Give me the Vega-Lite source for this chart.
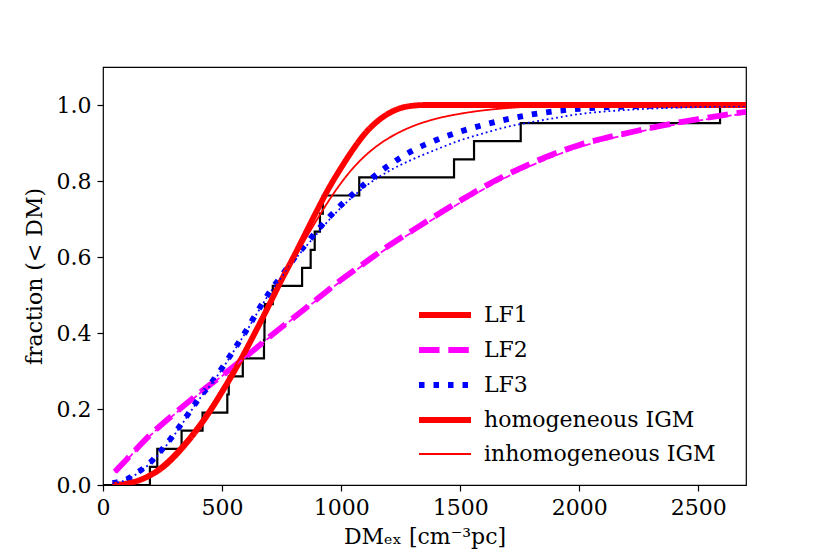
{
  "$schema": "https://vega.github.io/schema/vega-lite/v6.json",
  "autosize": {"type": "none"},
  "width": 643,
  "height": 418,
  "padding": {"left": 103, "top": 67, "right": 84, "bottom": 69},
  "background": "white",
  "datasets": {
    "obs": [
      {"x": 0, "y": 0}, {"x": 197, "y": 0.0476}, {"x": 228, "y": 0.0952}, {"x": 330, "y": 0.1429},
      {"x": 418, "y": 0.1905}, {"x": 522, "y": 0.2381}, {"x": 528, "y": 0.2857}, {"x": 587, "y": 0.3333},
      {"x": 676, "y": 0.381}, {"x": 678, "y": 0.4286}, {"x": 680, "y": 0.4762}, {"x": 713, "y": 0.5238},
      {"x": 836, "y": 0.5714}, {"x": 872, "y": 0.619}, {"x": 889, "y": 0.6667}, {"x": 911, "y": 0.7143},
      {"x": 923, "y": 0.7619}, {"x": 1076, "y": 0.8095}, {"x": 1474, "y": 0.8571}, {"x": 1558, "y": 0.9048},
      {"x": 1754, "y": 0.9524}, {"x": 2591, "y": 1.0}, {"x": 2700, "y": 1.0}
    ],
    "curves": [
      {"s": "LF2 inh", "x": 50, "y": 0.033}, {"s": "LF2 inh", "x": 100, "y": 0.066}, {"s": "LF2 inh", "x": 200, "y": 0.131}, {"s": "LF2 inh", "x": 300, "y": 0.186}, {"s": "LF2 inh", "x": 400, "y": 0.238}, {"s": "LF2 inh", "x": 500, "y": 0.287}, {"s": "LF2 inh", "x": 600, "y": 0.337}, {"s": "LF2 inh", "x": 700, "y": 0.389}, {"s": "LF2 inh", "x": 800, "y": 0.439}, {"s": "LF2 inh", "x": 900, "y": 0.488}, {"s": "LF2 inh", "x": 1000, "y": 0.537}, {"s": "LF2 inh", "x": 1100, "y": 0.582}, {"s": "LF2 inh", "x": 1200, "y": 0.626}, {"s": "LF2 inh", "x": 1300, "y": 0.666}, {"s": "LF2 inh", "x": 1400, "y": 0.705}, {"s": "LF2 inh", "x": 1500, "y": 0.743}, {"s": "LF2 inh", "x": 1600, "y": 0.779}, {"s": "LF2 inh", "x": 1700, "y": 0.812}, {"s": "LF2 inh", "x": 1800, "y": 0.841}, {"s": "LF2 inh", "x": 1900, "y": 0.867}, {"s": "LF2 inh", "x": 2000, "y": 0.889}, {"s": "LF2 inh", "x": 2100, "y": 0.907}, {"s": "LF2 inh", "x": 2200, "y": 0.922}, {"s": "LF2 inh", "x": 2300, "y": 0.936}, {"s": "LF2 inh", "x": 2400, "y": 0.948}, {"s": "LF2 inh", "x": 2500, "y": 0.959}, {"s": "LF2 inh", "x": 2600, "y": 0.969}, {"s": "LF2 inh", "x": 2700, "y": 0.978},
      {"s": "LF2", "x": 50, "y": 0.035}, {"s": "LF2", "x": 100, "y": 0.068}, {"s": "LF2", "x": 200, "y": 0.133}, {"s": "LF2", "x": 300, "y": 0.188}, {"s": "LF2", "x": 400, "y": 0.24}, {"s": "LF2", "x": 500, "y": 0.288}, {"s": "LF2", "x": 600, "y": 0.338}, {"s": "LF2", "x": 700, "y": 0.39}, {"s": "LF2", "x": 800, "y": 0.44}, {"s": "LF2", "x": 900, "y": 0.49}, {"s": "LF2", "x": 1000, "y": 0.54}, {"s": "LF2", "x": 1100, "y": 0.585}, {"s": "LF2", "x": 1200, "y": 0.63}, {"s": "LF2", "x": 1300, "y": 0.67}, {"s": "LF2", "x": 1400, "y": 0.71}, {"s": "LF2", "x": 1500, "y": 0.748}, {"s": "LF2", "x": 1600, "y": 0.785}, {"s": "LF2", "x": 1700, "y": 0.818}, {"s": "LF2", "x": 1800, "y": 0.847}, {"s": "LF2", "x": 1900, "y": 0.873}, {"s": "LF2", "x": 2000, "y": 0.895}, {"s": "LF2", "x": 2100, "y": 0.912}, {"s": "LF2", "x": 2200, "y": 0.926}, {"s": "LF2", "x": 2300, "y": 0.94}, {"s": "LF2", "x": 2400, "y": 0.952}, {"s": "LF2", "x": 2500, "y": 0.963}, {"s": "LF2", "x": 2600, "y": 0.973}, {"s": "LF2", "x": 2700, "y": 0.982},
      {"s": "LF3 inh", "x": 40, "y": 0.004}, {"s": "LF3 inh", "x": 100, "y": 0.014}, {"s": "LF3 inh", "x": 150, "y": 0.033}, {"s": "LF3 inh", "x": 200, "y": 0.058}, {"s": "LF3 inh", "x": 250, "y": 0.092}, {"s": "LF3 inh", "x": 300, "y": 0.132}, {"s": "LF3 inh", "x": 350, "y": 0.177}, {"s": "LF3 inh", "x": 400, "y": 0.222}, {"s": "LF3 inh", "x": 450, "y": 0.262}, {"s": "LF3 inh", "x": 500, "y": 0.305}, {"s": "LF3 inh", "x": 550, "y": 0.353}, {"s": "LF3 inh", "x": 600, "y": 0.402}, {"s": "LF3 inh", "x": 650, "y": 0.455}, {"s": "LF3 inh", "x": 700, "y": 0.505}, {"s": "LF3 inh", "x": 750, "y": 0.547}, {"s": "LF3 inh", "x": 800, "y": 0.589}, {"s": "LF3 inh", "x": 850, "y": 0.626}, {"s": "LF3 inh", "x": 900, "y": 0.662}, {"s": "LF3 inh", "x": 950, "y": 0.698}, {"s": "LF3 inh", "x": 1000, "y": 0.73}, {"s": "LF3 inh", "x": 1100, "y": 0.785}, {"s": "LF3 inh", "x": 1200, "y": 0.826}, {"s": "LF3 inh", "x": 1300, "y": 0.857}, {"s": "LF3 inh", "x": 1400, "y": 0.883}, {"s": "LF3 inh", "x": 1500, "y": 0.907}, {"s": "LF3 inh", "x": 1600, "y": 0.926}, {"s": "LF3 inh", "x": 1700, "y": 0.943}, {"s": "LF3 inh", "x": 1800, "y": 0.955}, {"s": "LF3 inh", "x": 1900, "y": 0.966}, {"s": "LF3 inh", "x": 2000, "y": 0.976}, {"s": "LF3 inh", "x": 2200, "y": 0.987}, {"s": "LF3 inh", "x": 2400, "y": 0.993}, {"s": "LF3 inh", "x": 2600, "y": 0.996}, {"s": "LF3 inh", "x": 2700, "y": 0.997},
      {"s": "LF3", "x": 40, "y": 0.005}, {"s": "LF3", "x": 100, "y": 0.015}, {"s": "LF3", "x": 150, "y": 0.035}, {"s": "LF3", "x": 200, "y": 0.06}, {"s": "LF3", "x": 250, "y": 0.095}, {"s": "LF3", "x": 300, "y": 0.135}, {"s": "LF3", "x": 350, "y": 0.18}, {"s": "LF3", "x": 400, "y": 0.225}, {"s": "LF3", "x": 450, "y": 0.265}, {"s": "LF3", "x": 500, "y": 0.308}, {"s": "LF3", "x": 550, "y": 0.356}, {"s": "LF3", "x": 600, "y": 0.405}, {"s": "LF3", "x": 650, "y": 0.458}, {"s": "LF3", "x": 700, "y": 0.508}, {"s": "LF3", "x": 750, "y": 0.551}, {"s": "LF3", "x": 800, "y": 0.594}, {"s": "LF3", "x": 850, "y": 0.632}, {"s": "LF3", "x": 900, "y": 0.67}, {"s": "LF3", "x": 950, "y": 0.705}, {"s": "LF3", "x": 1000, "y": 0.737}, {"s": "LF3", "x": 1050, "y": 0.766}, {"s": "LF3", "x": 1100, "y": 0.793}, {"s": "LF3", "x": 1200, "y": 0.841}, {"s": "LF3", "x": 1300, "y": 0.88}, {"s": "LF3", "x": 1400, "y": 0.908}, {"s": "LF3", "x": 1500, "y": 0.93}, {"s": "LF3", "x": 1600, "y": 0.948}, {"s": "LF3", "x": 1700, "y": 0.963}, {"s": "LF3", "x": 1800, "y": 0.975}, {"s": "LF3", "x": 1900, "y": 0.984}, {"s": "LF3", "x": 2000, "y": 0.99}, {"s": "LF3", "x": 2200, "y": 0.996}, {"s": "LF3", "x": 2400, "y": 0.999}, {"s": "LF3", "x": 2700, "y": 1.0},
      {"s": "inhomogeneous IGM", "x": 40, "y": 0}, {"s": "inhomogeneous IGM", "x": 100, "y": 0.006}, {"s": "inhomogeneous IGM", "x": 150, "y": 0.016}, {"s": "inhomogeneous IGM", "x": 200, "y": 0.032}, {"s": "inhomogeneous IGM", "x": 250, "y": 0.055}, {"s": "inhomogeneous IGM", "x": 300, "y": 0.085}, {"s": "inhomogeneous IGM", "x": 350, "y": 0.12}, {"s": "inhomogeneous IGM", "x": 400, "y": 0.16}, {"s": "inhomogeneous IGM", "x": 450, "y": 0.205}, {"s": "inhomogeneous IGM", "x": 500, "y": 0.255}, {"s": "inhomogeneous IGM", "x": 550, "y": 0.307}, {"s": "inhomogeneous IGM", "x": 600, "y": 0.362}, {"s": "inhomogeneous IGM", "x": 650, "y": 0.42}, {"s": "inhomogeneous IGM", "x": 700, "y": 0.477}, {"s": "inhomogeneous IGM", "x": 750, "y": 0.535}, {"s": "inhomogeneous IGM", "x": 800, "y": 0.592}, {"s": "inhomogeneous IGM", "x": 850, "y": 0.647}, {"s": "inhomogeneous IGM", "x": 900, "y": 0.7}, {"s": "inhomogeneous IGM", "x": 950, "y": 0.75}, {"s": "inhomogeneous IGM", "x": 1000, "y": 0.795}, {"s": "inhomogeneous IGM", "x": 1050, "y": 0.834}, {"s": "inhomogeneous IGM", "x": 1100, "y": 0.866}, {"s": "inhomogeneous IGM", "x": 1150, "y": 0.892}, {"s": "inhomogeneous IGM", "x": 1200, "y": 0.913}, {"s": "inhomogeneous IGM", "x": 1250, "y": 0.93}, {"s": "inhomogeneous IGM", "x": 1300, "y": 0.944}, {"s": "inhomogeneous IGM", "x": 1400, "y": 0.964}, {"s": "inhomogeneous IGM", "x": 1500, "y": 0.977}, {"s": "inhomogeneous IGM", "x": 1600, "y": 0.986}, {"s": "inhomogeneous IGM", "x": 1700, "y": 0.992}, {"s": "inhomogeneous IGM", "x": 1800, "y": 0.996}, {"s": "inhomogeneous IGM", "x": 1900, "y": 0.998}, {"s": "inhomogeneous IGM", "x": 2100, "y": 1.0}, {"s": "inhomogeneous IGM", "x": 2700, "y": 1.0},
      {"s": "LF1", "x": 40, "y": 0}, {"s": "LF1", "x": 100, "y": 0.004}, {"s": "LF1", "x": 150, "y": 0.012}, {"s": "LF1", "x": 200, "y": 0.026}, {"s": "LF1", "x": 250, "y": 0.046}, {"s": "LF1", "x": 300, "y": 0.075}, {"s": "LF1", "x": 350, "y": 0.11}, {"s": "LF1", "x": 400, "y": 0.15}, {"s": "LF1", "x": 450, "y": 0.195}, {"s": "LF1", "x": 500, "y": 0.245}, {"s": "LF1", "x": 550, "y": 0.298}, {"s": "LF1", "x": 600, "y": 0.355}, {"s": "LF1", "x": 650, "y": 0.415}, {"s": "LF1", "x": 700, "y": 0.477}, {"s": "LF1", "x": 750, "y": 0.54}, {"s": "LF1", "x": 800, "y": 0.6}, {"s": "LF1", "x": 850, "y": 0.662}, {"s": "LF1", "x": 900, "y": 0.724}, {"s": "LF1", "x": 950, "y": 0.783}, {"s": "LF1", "x": 1000, "y": 0.835}, {"s": "LF1", "x": 1050, "y": 0.883}, {"s": "LF1", "x": 1100, "y": 0.925}, {"s": "LF1", "x": 1150, "y": 0.956}, {"s": "LF1", "x": 1200, "y": 0.978}, {"s": "LF1", "x": 1250, "y": 0.992}, {"s": "LF1", "x": 1300, "y": 0.998}, {"s": "LF1", "x": 1350, "y": 1.0}, {"s": "LF1", "x": 2700, "y": 1.0}
    ]
  },
  "encoding": {
    "x": {
      "field": "x", "type": "quantitative",
      "scale": {"domain": [0, 2700], "nice": false, "zero": false},
      "axis": {"values": [0, 500, 1000, 1500, 2000, 2500], "format": "d", "title": "DMₑₓ [cm⁻³pc]", "titlePadding": 8, "labelFlush": false}
    },
    "y": {
      "field": "y", "type": "quantitative",
      "scale": {"domain": [0, 1.1], "nice": false},
      "axis": {"values": [0, 0.2, 0.4, 0.6, 0.8, 1.0], "format": ".1f", "title": "fraction (< DM)", "titlePadding": 10, "labelFlush": false}
    }
  },
  "layer": [
    {
      "data": {"name": "obs"},
      "mark": {"type": "line", "interpolate": "step-after", "color": "black", "strokeWidth": 2.2, "clip": true},
      "encoding": {}
    },
    {
      "data": {"name": "curves"},
      "transform": [{"filter": {"field": "s", "oneOf": ["LF1", "LF2", "LF3"]}}],
      "mark": {"type": "line", "interpolate": "monotone", "strokeWidth": 5.8, "clip": true},
      "encoding": {
        "color": {
          "field": "s", "type": "nominal",
          "scale": {
            "domain": ["LF1", "LF2", "LF3", "homogeneous IGM", "inhomogeneous IGM", "LF2 inh", "LF3 inh"],
            "range": ["#ff0000", "#ff00ff", "#0000ff", "#ff0000", "#ff0000", "#ff00ff", "#0000ff"]
          },
          "legend": {
            "orient": "none",
            "legendX": 331,
            "legendY": 237,
            "title": null,
            "padding": 0,
            "values": ["LF1", "LF2", "LF3", "homogeneous IGM", "inhomogeneous IGM"],
            "symbolType": "M-3,0H3",
            "symbolSize": 300,
            "symbolFillColor": "transparent",
            "labelOffset": 28,
            "rowPadding": 11,
            "labelFont": "DejaVu Serif",
            "labelFontSize": 22,
            "labelColor": "black",
            "labelLimit": 400,
            "encode": {"symbols": {"update": {"strokeWidth": {"signal": "datum.value === 'inhomogeneous IGM' ? 1.8 : 5.8"}}}}
          }
        },
        "strokeDash": {
          "field": "s", "type": "nominal",
          "scale": {
            "domain": ["LF1", "LF2", "LF3", "homogeneous IGM", "inhomogeneous IGM", "LF2 inh", "LF3 inh"],
            "range": [[1, 0], [20.5, 8.8], [5.5, 9], [1, 0], [1, 0], [6.7, 2.9], [1.8, 3]]
          }
        }
      }
    },
    {
      "data": {"name": "curves"},
      "transform": [{"filter": {"field": "s", "oneOf": ["inhomogeneous IGM", "LF2 inh", "LF3 inh"]}}],
      "mark": {"type": "line", "interpolate": "monotone", "strokeWidth": 1.8, "clip": true},
      "encoding": {
        "color": {"field": "s", "type": "nominal"},
        "strokeDash": {"field": "s", "type": "nominal"}
      }
    }
  ],
  "config": {
    "view": {"stroke": "black", "strokeWidth": 1.2},
    "axis": {
      "domain": false,
      "grid": false,
      "ticks": true,
      "tickColor": "black",
      "tickSize": 6,
      "tickWidth": 1.2,
      "labelFont": "DejaVu Serif",
      "labelFontSize": 22,
      "labelColor": "black",
      "labelPadding": 6,
      "titleFont": "DejaVu Serif",
      "titleFontSize": 22,
      "titleFontWeight": "normal",
      "titleColor": "black"
    }
  }
}
